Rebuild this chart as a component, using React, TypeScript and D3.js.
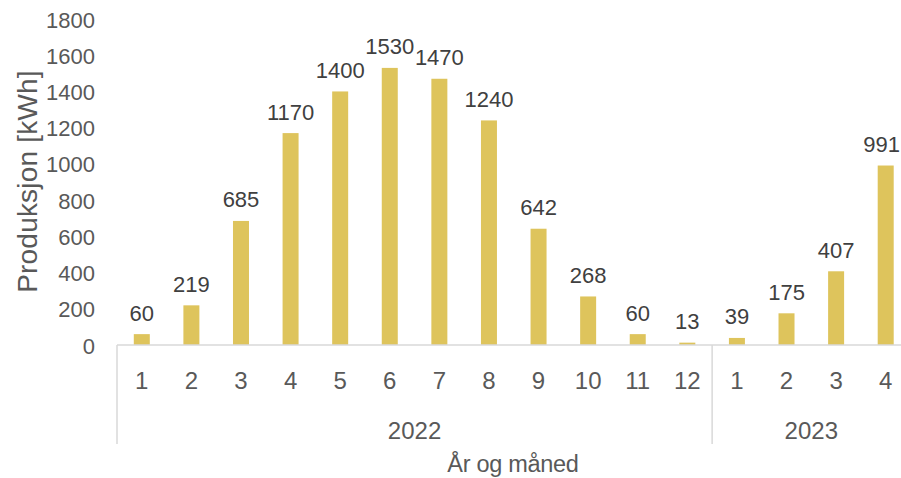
import React from "react";
import * as d3 from "d3";

const years = ["2022", "2023"];
const months = ["1", "2", "3", "4", "5", "6", "7", "8", "9", "10", "11", "12", "1", "2", "3", "4"];
const monthYear = ["2022", "2022", "2022", "2022", "2022", "2022", "2022", "2022", "2022", "2022", "2022", "2022", "2023", "2023", "2023", "2023"];
const production = [60, 219, 685, 1170, 1400, 1530, 1470, 1240, 642, 268, 60, 13, 39, 175, 407, 991];
const yTicks = [0, 200, 400, 600, 800, 1000, 1200, 1400, 1600, 1800];

const W = 901;
const H = 478;
const FONT = "'Liberation Sans', Arial, sans-serif";

export default function App() {
  const left = 117;
  const right = 910.5;
  const top = 19;
  const base = 345;
  const groupBottom = 444;

  const keys = production.map((_, i) => String(i));
  const x = d3.scaleBand<string>().domain(keys).range([left, right]).paddingInner(0).paddingOuter(0);
  const y = d3.scaleLinear().domain([0, 1800]).range([base, top]);
  const barW = 16;

  // year groups: first and last index of each year
  const groups = years.map((yr) => {
    const idx = monthYear.map((m, i) => (m === yr ? i : -1)).filter((i) => i >= 0);
    const x0 = x(String(idx[0]))!;
    const x1 = x(String(idx[idx.length - 1]))! + x.bandwidth();
    return { yr, x0, x1 };
  });

  return (
    <svg width={W} height={H} style={{ position: "absolute", left: 0, top: 0, background: "#fff" }} fontFamily={FONT}>
      {/* y tick labels */}
      {yTicks.map((t) => (
        <text key={t} x={95} y={y(t) + 8.5} textAnchor="end" fontSize={22} fill="#595959">
          {t}
        </text>
      ))}
      <text transform={`translate(37, 181.5) rotate(-90)`} textAnchor="middle" fontSize={28} fill="#595959" letterSpacing={0.2}>
        Produksjon [kWh]
      </text>

      {/* bars with value labels; labels near the right edge are kept inside the canvas */}
      {production.map((v, i) => {
        const cx = x(String(i))! + x.bandwidth() / 2;
        const labelHalf = String(v).length * 6.1;
        const lx = Math.min(cx, W - 1 - labelHalf);
        return (
          <g key={i}>
            <rect x={cx - barW / 2} y={y(v)} width={barW} height={base - y(v)} fill="#DEC45C" />
            <text x={lx} y={y(v) - 13.5} textAnchor="middle" fontSize={22} fill="#404040">
              {v}
            </text>
          </g>
        );
      })}

      {/* axis baseline and group separators */}
      <line x1={left} x2={W} y1={base} y2={base} stroke="#d9d9d9" strokeWidth={1.5} />
      <line x1={left} x2={left} y1={base} y2={groupBottom} stroke="#d9d9d9" strokeWidth={1.5} />
      {groups.slice(1).map((g) => (
        <line key={g.yr} x1={g.x0} x2={g.x0} y1={base} y2={groupBottom} stroke="#d9d9d9" strokeWidth={1.5} />
      ))}

      {/* month labels */}
      {months.map((m, i) => (
        <text key={i} x={x(String(i))! + x.bandwidth() / 2} y={388.5} textAnchor="middle" fontSize={24} fill="#595959">
          {m}
        </text>
      ))}

      {/* year labels */}
      {groups.map((g) => (
        <text key={g.yr} x={(g.x0 + g.x1) / 2} y={439} textAnchor="middle" fontSize={24} fill="#595959">
          {g.yr}
        </text>
      ))}

      <text x={513} y={472} textAnchor="middle" fontSize={23.5} fill="#595959" letterSpacing={-0.3}>
        År og måned
      </text>
    </svg>
  );
}
